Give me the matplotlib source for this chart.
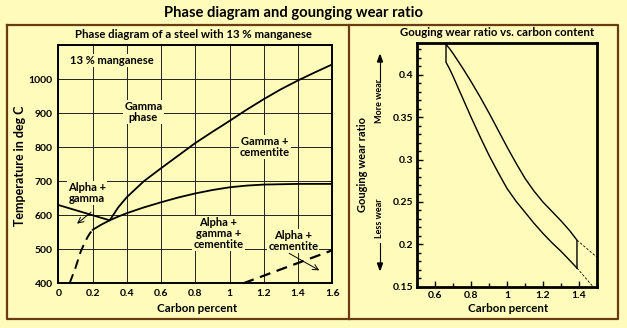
import numpy as np
import matplotlib.pyplot as plt
from matplotlib.lines import Line2D
from matplotlib.ticker import MultipleLocator, FuncFormatter

plt.rcParams['font.family'] = ['Lato', 'DejaVu Sans']
plt.rcParams['font.weight'] = 'bold'

bg = '#fffcbb'
brown = '#6b3c12'

# --- left panel data (carbon %, temperature deg C) ---
acm_c = [0.3, 0.35, 0.4, 0.5, 0.6, 0.7, 0.8, 0.9, 1.0, 1.1, 1.2, 1.3, 1.4, 1.5, 1.6]
acm_t = [585, 623, 653, 700, 738, 775, 812, 845, 877, 910, 941, 970, 996, 1020, 1043]
a1_c = [0.3, 0.35, 0.4, 0.5, 0.6, 0.7, 0.8, 0.9, 1.0, 1.1, 1.2, 1.3, 1.4, 1.6]
a1_t = [585, 596, 606, 623, 638, 652, 664, 674, 682, 687, 690, 691, 692, 692]
a3_c = [0.0, 0.3]
a3_t = [630, 585]
low_c = [0.2, 0.25, 0.3]
low_t = [557, 572, 585]
dash1_c = [0.066, 0.10, 0.13, 0.15, 0.17, 0.185, 0.2]
dash1_t = [400, 445, 492, 515, 535, 547, 557]
dash2_c = [1.08, 1.6]
dash2_t = [400, 497]

# --- right panel data (carbon %, gouging wear ratio) ---
up_c = [0.66, 0.68, 0.70, 0.75, 0.80, 0.85, 0.90, 0.95, 1.00, 1.05, 1.10, 1.15,
        1.20, 1.25, 1.30, 1.35, 1.39, 1.39]
up_r = [0.436, 0.431, 0.425, 0.409, 0.392, 0.374, 0.355, 0.335, 0.315, 0.296, 0.278, 0.263,
        0.250, 0.239, 0.228, 0.216, 0.205, 0.172]
lo_c = [0.66, 0.66, 0.68, 0.70, 0.75, 0.80, 0.85, 0.90, 0.95, 1.00, 1.05, 1.10, 1.15,
        1.20, 1.25, 1.30, 1.35, 1.39]
lo_r = [0.436, 0.415, 0.407, 0.398, 0.374, 0.350, 0.327, 0.305, 0.285, 0.266, 0.251, 0.238, 0.225,
        0.213, 0.202, 0.192, 0.181, 0.172]
up_ext_c = [1.39, 1.50]
up_ext_r = [0.205, 0.185]
lo_ext_c = [1.39, 1.48]
lo_ext_r = [0.172, 0.150]

fig = plt.figure(figsize=(6.27, 3.28), dpi=100, facecolor=bg)

# frame boxes
W, H = 627, 328
def fx(x): return x / W
def fy(y): return 1 - y / H
for xs, ys in [([7, 618, 618, 7, 7], [25, 25, 319, 319, 25]), ([349, 349], [25, 319])]:
    fig.add_artist(Line2D([fx(x) for x in xs], [fy(y) for y in ys], color=brown, lw=1.6))

fig.text(fx(294), fy(13), 'Phase diagram and gounging wear ratio', ha='center', va='center',
         fontsize=10.6)
fig.text(fx(193), fy(35), 'Phase diagram of a steel with 13 % manganese', ha='center', va='center',
         fontsize=8.2)
fig.text(fx(497), fy(32), 'Gouging wear ratio vs. carbon content', ha='center', va='center',
         fontsize=8.2)

# ---------- left: phase diagram ----------
ax = fig.add_axes([fx(58.3), fy(283.3), (332.3 - 58.3) / W, (283.3 - 45) / H])
ax.set_facecolor(bg)
ax.set_xlim(0, 1.6)
ax.set_ylim(400, 1100)
ax.set_xticks(np.arange(0, 1.61, 0.2))
ax.set_yticks([400, 500, 600, 700, 800, 900, 1000, 1100])
ax.set_yticklabels(['400', '500', '600', '700', '800', '900', '1000', ''])
ax.xaxis.set_major_formatter(FuncFormatter(lambda v, p: '%g' % round(v, 1)))
ax.grid(True, color='#222222', lw=0.7)
ax.tick_params(length=0, labelsize=7.5, pad=4)
for s in ax.spines.values():
    s.set_linewidth(1.4)

lk = dict(color='black', lw=1.3, solid_capstyle='round', solid_joinstyle='round')
ax.plot(acm_c, acm_t, **lk)
ax.plot(a1_c, a1_t, **lk)
ax.plot(a3_c, a3_t, **lk)
ax.plot(low_c, low_t, **lk)
ax.plot(dash1_c, dash1_t, color='black', lw=1.4, dashes=(5, 3))
ax.plot(dash2_c, dash2_t, color='black', lw=1.6, dashes=(5, 3), clip_on=False)

bb = dict(facecolor=bg, edgecolor='none', pad=0.8)
tk = dict(ha='center', va='center', fontsize=8, linespacing=1.0, bbox=bb)
ax.text(0.068, 1055, '13 % manganese', ha='left', va='center', fontsize=8, bbox=bb)
ax.text(0.497, 903, 'Gamma\nphase', **tk)
ax.text(1.207, 801, 'Gamma +\ncementite', **tk)
ax.text(0.166, 666, 'Alpha +\ngamma', **tk)
ax.text(0.935, 546, 'Alpha +\ngamma +\ncementite', **tk)
ax.text(1.372, 525, 'Alpha +\ncementite', **tk)
ax.annotate('', xy=(0.097, 570), xytext=(0.204, 614),
            arrowprops=dict(arrowstyle='->', lw=0.7, color='black'))
ax.annotate('', xy=(1.538, 434), xytext=(1.334, 492),
            arrowprops=dict(arrowstyle='->', lw=0.7, color='black'))

fig.text(fx(20), fy(166), 'Temperature in deg C', rotation=90, ha='center', va='center', fontsize=9)
fig.text(fx(197), fy(308), 'Carbon percent', ha='center', va='center', fontsize=8.3)

# ---------- right: gouging wear ratio ----------
ax2 = fig.add_axes([fx(417.3), fy(286.7), (596.7 - 417.3) / W, (286.7 - 42.7) / H])
ax2.set_facecolor(bg)
ax2.set_xlim(0.5, 1.5)
ax2.set_ylim(0.15, 0.438)
ax2.xaxis.set_major_locator(MultipleLocator(0.2))
ax2.xaxis.set_minor_locator(MultipleLocator(0.1))
ax2.yaxis.set_major_locator(MultipleLocator(0.05))
ax2.yaxis.set_minor_locator(MultipleLocator(0.01))
ax2.xaxis.set_major_formatter(FuncFormatter(lambda v, p: '%g' % round(v, 2)))
ax2.yaxis.set_major_formatter(FuncFormatter(lambda v, p: '%g' % round(v, 2)))
ax2.tick_params(which='both', direction='in', labelsize=7.5, width=1.0, top=False, right=False)
ax2.tick_params(which='major', length=4, pad=3)
ax2.tick_params(which='minor', length=3)
for s in ax2.spines.values():
    s.set_linewidth(2)

ax2.plot(up_c, up_r, color='black', lw=1.0)
ax2.plot(lo_c, lo_r, color='black', lw=1.0)
ax2.plot(up_ext_c, up_ext_r, color='black', lw=0.6, dashes=(3, 2))
ax2.plot(lo_ext_c, lo_ext_r, color='black', lw=0.6, dashes=(3, 2))

fig.text(fx(362), fy(165), 'Gouging wear ratio', rotation=90, ha='center', va='center', fontsize=8)
fig.text(fx(380), fy(101), 'More wear', rotation=90, ha='center', va='center', fontsize=6.5)
fig.text(fx(380), fy(218), 'Less wear', rotation=90, ha='center', va='center', fontsize=6.5)
fig.add_artist(plt.Line2D([fx(380), fx(380)], [fy(82), fy(60)], color='black', lw=0.8))
fig.patches.append(plt.Polygon([[fx(377.5), fy(62)], [fx(382.5), fy(62)], [fx(380), fy(55)]],
                               closed=True, color='black', transform=fig.transFigure))
fig.add_artist(plt.Line2D([fx(380), fx(380)], [fy(243), fy(265)], color='black', lw=0.8))
fig.patches.append(plt.Polygon([[fx(377.5), fy(263)], [fx(382.5), fy(263)], [fx(380), fy(270)]],
                               closed=True, color='black', transform=fig.transFigure))
fig.text(fx(508), fy(308), 'Carbon percent', ha='center', va='center', fontsize=8.3)

plt.savefig('out.png', dpi=100, facecolor=bg)
